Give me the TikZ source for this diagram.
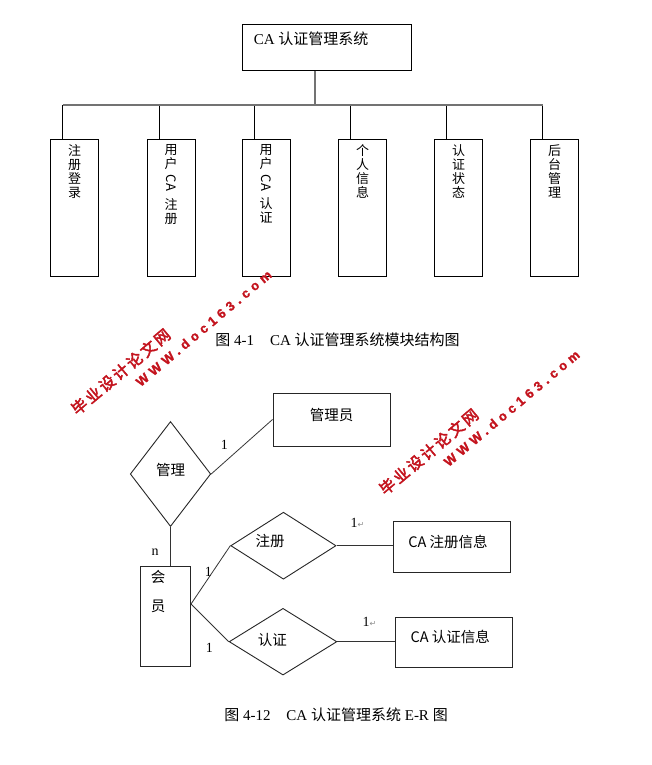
\documentclass[tikz,border=0pt]{standalone}
\usepackage{fontspec}
\setmainfont{Liberation Serif}
\newfontfamily\cjk{Noto Sans CJK SC}
\newfontfamily\wmzhfont[LetterSpace=16,FakeBold=3]{Noto Sans CJK SC}
\newfontfamily\wmurlfont[LetterSpace=34,FakeBold=1.5]{Liberation Sans}
\newfontfamily\symfont{DejaVu Sans}
\usetikzlibrary{positioning,shapes.geometric}
\definecolor{wmred}{RGB}{196,20,30}
\newcommand{\zh}[1]{{\cjk #1}}
\newcommand{\retmark}{{\symfont\fontsize{8}{8}\selectfont\color{black!45}↵}}
\tikzset{
  ca root/.style={draw=black,line width=0.9pt,inner sep=0pt,
    minimum width=169pt,minimum height=46pt},
  ca title/.style={font=\fontsize{15}{18}\selectfont,inner sep=0pt,
    anchor=north west,xshift=12pt,yshift=-8pt},
  ca module/.style={draw=black,line width=0.9pt,inner sep=0pt,
    minimum width=48pt,minimum height=137pt},
  ca vtext/.style={font=\cjk\fontsize{13}{14}\selectfont,align=center,
    inner sep=0pt,anchor=north,yshift=-6pt},
  ca bus/.style={draw=black!55,line width=1.5pt},
  ca drop/.style={draw=black,line width=0.7pt},
  ca caption/.style={font=\fontsize{15}{18}\selectfont,inner sep=0pt},
  er entity/.style={draw=black!85,line width=1pt,inner sep=0pt},
  er relation/.style={draw=black!85,line width=0.9pt,diamond,inner sep=0pt},
  er text/.style={font=\cjk\fontsize{14.5}{16}\selectfont,inner sep=0pt},
  er vtext/.style={font=\cjk\fontsize{14.5}{29}\selectfont,align=center,
    inner sep=0pt,anchor=north},
  er link/.style={draw=black!80,line width=0.8pt},
  er card/.style={font=\fontsize{14}{16}\selectfont,inner sep=0pt},
  wm zh/.style={font=\wmzhfont\fontsize{15.5}{16}\selectfont,text=wmred,
    rotate=40,inner sep=0pt},
  wm url/.style={font=\wmurlfont\bfseries\fontsize{13}{14}\selectfont,
    text=wmred,rotate=40,inner sep=0pt}
}
\newcommand{\wmstamp}[1]{%
  \node[wm zh] (#1-zh) at (0,0) {毕业设计论文网};
  \node[wm url] (#1-url) at (83,-43.5) {WWW.doc163.com};
}

\begin{document}
\begin{tikzpicture}[x=1pt,y=-1pt]
  \fill[white] (0,0) rectangle (651,765);
  \useasboundingbox (0,0) rectangle (651,765);

  % Module structure.
  \node[ca root,label={[ca title]north west:{CA \zh{认证管理系统}}}] (root) at (326.5,47.3) {};
  \node[ca module,label={[ca vtext]north:{注\\册\\登\\录}}] (m1) at (74.5,207.6) {};
  \node[ca module,label={[ca vtext]north:{用\\户\\\raisebox{8pt}{\rotatebox{-90}{CA}}\\[6pt]注\\册}}] (m2) at (171,207.6) {};
  \node[ca module,label={[ca vtext]north:{用\\户\\\raisebox{8pt}{\rotatebox{-90}{CA}}\\[6pt]认\\证}}] (m3) at (266,207.6) {};
  \node[ca module,label={[ca vtext]north:{个\\人\\信\\息}}] (m4) at (362.5,207.6) {};
  \node[ca module,label={[ca vtext]north:{认\\证\\状\\态}}] (m5) at (458.5,207.6) {};
  \node[ca module,label={[ca vtext]north:{后\\台\\管\\理}}] (m6) at (554.5,207.6) {};

  \coordinate (bus-top) at (315,105);
  \foreach \m in {1,...,6}{
    \path ([xshift=-12pt]m\m.north) coordinate (d\m);
    \draw[ca drop] (d\m) -- (d\m |- bus-top);
  }
  \draw[ca bus] (d1 |- bus-top) -- (d6 |- bus-top);
  \draw[ca bus] (bus-top |- root.south) -- (bus-top);

  \node[ca caption] (cap1) at (337.5,339.5)
    {\zh{图} 4-1\hspace{16pt}CA \zh{认证管理系统模块结构图}};

  % E-R diagram.
  \node[er entity,minimum width=117pt,minimum height=53pt,
    label={[er text,yshift=4.5pt]center:管理员}] (gly) at (331.5,419.5) {};
  \node[er relation,minimum width=80.5pt,minimum height=105pt,
    label={[er text,yshift=4pt]center:管理}] (gl) at (170.5,474) {};
  \node[er entity,minimum width=50pt,minimum height=100pt,
    label={[er vtext,xshift=-7.5pt,yshift=-5pt]north:{会\\员}}] (hy) at (165.5,616) {};
  \node[er relation,minimum width=105.3pt,minimum height=67pt,
    label={[er text,xshift=-13.4pt,yshift=4.7pt]center:注册}] (zc) at (283.4,545.7) {};
  \node[er relation,minimum width=107.7pt,minimum height=66.7pt,
    label={[er text,xshift=-10.6pt,yshift=1.7pt]center:认证}] (rz) at (283,641.7) {};
  \node[er entity,minimum width=117.3pt,minimum height=50.6pt,
    label={[er text,xshift=-4pt,yshift=5.3pt]center:CA 注册信息}] (zcinfo) at (452,547) {};
  \node[er entity,minimum width=117pt,minimum height=50pt,
    label={[er text,xshift=-4pt,yshift=6pt]center:CA 认证信息}] (rzinfo) at (454.2,642.7) {};

  \coordinate (hy-port) at ([yshift=12pt]hy.east);
  \draw[er link] (gl.east) -- (gly.west);
  \draw[er link] (gl.south) -- (gl.south |- hy.north);
  \draw[er link] (hy-port) -- (zc.west);
  \draw[er link] (hy-port) -- (rz.west);
  \draw[er link] (zc.east) -- (zc.east -| zcinfo.west);
  \draw[er link] (rz.east) -- (rz.east -| rzinfo.west);

  \node[er card] (c-gly) at (224.3,445) {1};
  \node[er card] (c-hy) at (155,551.7) {n};
  \node[er card] (c-zc) at (208.3,571.7) {1};
  \node[er card] (c-rz) at (209.3,648.3) {1};
  \node[er card,anchor=west] (c-zcinfo) at (350.5,523.3) {1\retmark};
  \node[er card,anchor=west] (c-rzinfo) at (362.5,621.7) {1\retmark};

  \node[ca caption] (cap2) at (336,715)
    {\zh{图} 4-12\hspace{16pt}CA \zh{认证管理系统} E-R \zh{图}};

  % Watermarks.
  \begin{scope}[shift={(120.7,371.7)}]
    \wmstamp{wa}
  \end{scope}
  \begin{scope}[shift={(428.7,451.7)}]
    \wmstamp{wb}
  \end{scope}
\end{tikzpicture}
\end{document}
